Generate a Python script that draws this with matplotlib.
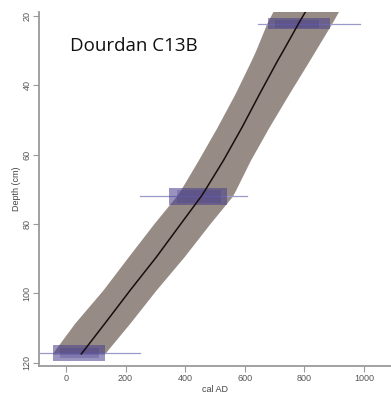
import numpy as np
import matplotlib.pyplot as plt

# age-depth model (depth in cm, ages in cal AD)
depth_curve = [18.5, 22, 30, 33, 42.4, 52.2, 61.7, 70.4, 72, 79.9, 89.6, 99.1, 108.6, 116.4, 117.5]
age_mean = [805, 781, 729, 709, 650, 590, 528, 466, 454, 386, 303, 216, 132, 62, 52]
age_lo = [695, 674, 636, 620, 567, 506, 443, 383, 370, 295, 208, 124, 30, -37, -45]
age_hi = [915, 892, 836, 815, 748, 680, 618, 568, 558, 483, 395, 302, 215, 140, 130]

# dated levels
date_depth = [22.2, 72.0, 117.2]
box_lo = [678, 346, -44]
box_hi = [886, 540, 131]
box_inner_lo = [700, 372, -20]
box_inner_hi = [850, 520, 110]
range_lo = [644, 248, -85]
range_hi = [987, 607, 248]

x_ticks = [0, 200, 400, 600, 800, 1000]
y_ticks = [20, 40, 60, 80, 100, 120]

band_color = '#978c85'
box_color = '#463c8c'
range_color = '#9a9ac8'
axis_color = '#9a9a9a'

fig = plt.figure(figsize=(3.91, 3.97), dpi=100)
ax = fig.add_axes([39 / 391, 1 - 366 / 397, 1 - 39 / 391, (366 - 12) / 397])

ax.fill_betweenx(depth_curve, age_lo, age_hi, color=band_color, lw=0, zorder=1)

# date boxes and ranges
for d, lo, hi in zip(date_depth, range_lo, range_hi):
    ax.plot([lo, hi], [d, d], color=range_color, lw=0.9, zorder=2)
ax.barh(date_depth, np.subtract(box_hi, box_lo), left=box_lo, height=[3.2, 5.0, 4.8],
        color=box_color, alpha=0.55, lw=0, zorder=3)
ax.barh(date_depth, np.subtract(box_inner_hi, box_inner_lo), left=box_inner_lo, height=[2.4, 3.6, 3.0],
        color=box_color, alpha=0.3, lw=0, zorder=3)

ax.plot(age_mean, depth_curve, color='#1a0d0d', lw=1.1, zorder=4)

ax.set_xlim(-90, 1090)
ax.set_ylim(121, 18.8)
ax.set_xticks(x_ticks)
ax.set_yticks(y_ticks)

for side in ['top', 'right']:
    ax.spines[side].set_visible(False)
for side in ['left', 'bottom']:
    ax.spines[side].set_color(axis_color)
    ax.spines[side].set_linewidth(1.3)

ax.tick_params(colors=axis_color, length=4, width=0.8, labelsize=6.5,
               labelcolor='#555555', pad=1.5)
plt.setp(ax.get_yticklabels(), rotation=90, va='center')
for lab in ax.get_xticklabels() + ax.get_yticklabels():
    lab.set_family('Liberation Sans')

ax.set_xlabel('cal AD', fontsize=6.5, color='#444444', family='Liberation Sans', labelpad=2)
ax.set_ylabel('Depth (cm)', fontsize=6.5, color='#444444', family='Liberation Sans', labelpad=1)

fig.text(70 / 391, 1 - 46 / 397, 'Dourdan C13B', fontsize=13.5, family='Open Sans',
         color='#111111', va='center', ha='left')

fig.savefig('out.png', dpi=100)
